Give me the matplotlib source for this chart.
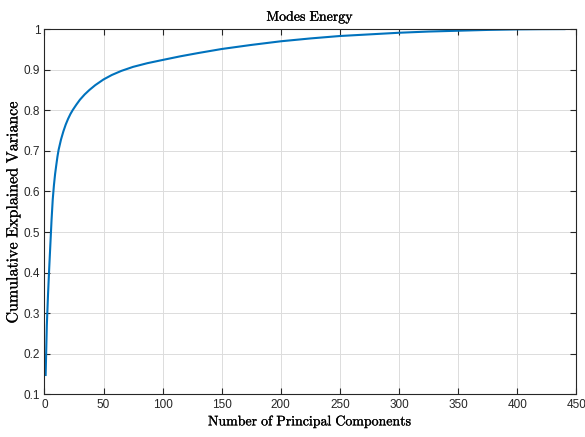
import matplotlib
matplotlib.use("Agg")
import matplotlib.pyplot as plt
import matplotlib.patheffects as pe
from matplotlib.ticker import FormatStrFormatter, MultipleLocator

# number of principal components vs cumulative explained variance
components = [1, 2, 3, 4, 5, 6, 7, 8, 9, 10, 11, 12, 14, 16, 18, 20, 22, 24, 27,
              30, 34, 38, 43, 50, 57, 65, 75, 87, 100, 115, 130, 150, 175, 200,
              225, 250, 275, 300, 325, 350, 375, 400, 420, 440]
variance = [0.148, 0.27, 0.345, 0.41, 0.47, 0.53, 0.58, 0.615, 0.643, 0.665, 0.686,
            0.703, 0.728, 0.748, 0.765, 0.779, 0.791, 0.801, 0.814,
            0.826, 0.839, 0.85, 0.862, 0.876, 0.887, 0.897, 0.907, 0.916, 0.924,
            0.933, 0.941, 0.951, 0.961, 0.970, 0.977, 0.983, 0.987, 0.991, 0.994,
            0.996, 0.998, 0.9993, 0.9998, 1.0]

plt.rcParams['mathtext.fontset'] = 'cm'
plt.rcParams['font.family'] = ['Liberation Sans', 'DejaVu Sans']

fig = plt.figure(figsize=(5.85, 4.37), dpi=100)
ax = fig.add_axes([0.076, 0.0973, 0.909, 0.8361])

ax.plot(components, variance, color='#0072BD', linewidth=1.5)

ax.set_xlim(0, 450)
ax.set_ylim(0.1, 1)
ax.xaxis.set_major_locator(MultipleLocator(50))
ax.yaxis.set_major_locator(MultipleLocator(0.1))
ax.yaxis.set_major_formatter(FormatStrFormatter('%g'))

ax.grid(True, color='#dcdcdc', linewidth=0.7)
ax.set_axisbelow(True)
for s in ax.spines.values():
    s.set_color('#262626')
    s.set_linewidth(0.8)
ax.tick_params(direction='in', top=True, right=True, length=4, width=0.8,
               colors='#262626', labelsize=8.5, pad=3)

# a thin stroke makes the cm text look as heavy as the latex one
bold = [pe.withStroke(linewidth=0.2, foreground='black')]
t = ax.set_title(r'$\mathrm{Modes\ Energy}$', fontsize=10, pad=6)
xl = ax.set_xlabel(r'$\mathrm{Number\ of\ Principal\ Components}$', fontsize=10, labelpad=2)
yl = ax.set_ylabel(r'$\mathrm{Cumulative\ Explained\ Variance}$', fontsize=11.5, labelpad=1)
for txt in (t, xl, yl):
    txt.set_path_effects(bold)

fig.savefig('out.png', dpi=100)
